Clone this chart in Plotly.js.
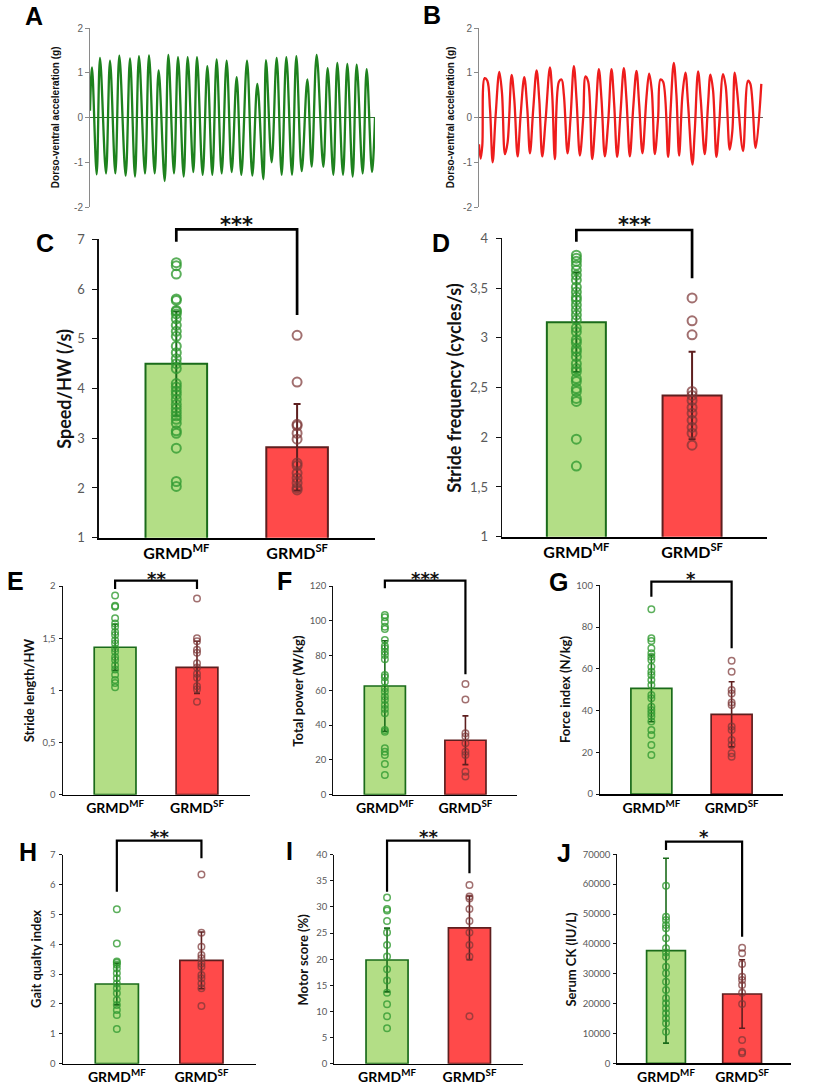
<!DOCTYPE html>
<html><head><meta charset="utf-8">
<script src="https://cdn.plot.ly/plotly-3.0.1.min.js"></script>
<style>html,body{margin:0;padding:0;background:#fff}#chart{width:814px;height:1088px}</style>
</head><body><div id="chart"></div>
<script>
// ---------------- DATA ----------------
// Panel A: dorso-ventral acceleration, GRMD-MF (time in s, acceleration in g; peaks/troughs)
const accelA_t = [0,0.07,0.234,0.351,0.561,0.702,0.889,1.029,1.251,1.404,1.579,1.719,1.930,2.070,2.269,2.409,2.620,2.749,2.947,3.088,3.287,3.427,3.626,3.754,3.953,4.117,4.292,4.444,4.620,4.795,4.971,5.146,5.310,5.509,5.696,5.871,6.082,6.175,6.374,6.550,6.725,6.889,7.088,7.240,7.427,7.626,7.778,7.953,8.187,8.339,8.538,8.678,8.877,9.029,9.216,9.357,9.567,9.708,9.895,10.0];
const accelA_g = [0.15,1.12,-1.27,1.33,-1.25,1.27,-1.25,1.38,-1.3,1.32,-1.32,1.37,-1.25,1.39,-1.25,1.05,-1.42,1.4,-1.25,1.35,-1.32,1.35,-1.22,1.35,-1.28,1.15,-1.28,1.3,-1.25,1.27,-1.22,0.9,-1.28,1.27,-1.3,0.75,-1.38,1.28,-1.0,1.33,-1.28,1.35,-1.28,1.37,-1.2,0.85,-1.1,1.4,-1.1,1.1,-1.28,1.22,-1.28,1.2,-1.32,1.18,-1.25,1.08,-1.22,0.0];
// Panel B: dorso-ventral acceleration, GRMD-SF
const accelB_t = [0,0.059,0.117,0.199,0.293,0.387,0.481,0.586,0.715,0.809,0.914,1.008,1.149,1.243,1.360,1.465,1.594,1.700,1.794,1.911,2.028,2.122,2.227,2.345,2.497,2.579,2.673,2.814,2.907,2.989,3.118,3.224,3.341,3.435,3.552,3.669,3.751,3.845,3.986,4.103,4.220,4.314,4.431,4.549,4.666,4.760,4.865,4.982,5.100,5.193,5.311,5.428,5.545,5.639,5.756,5.897,5.991,6.084,6.190,6.307,6.389,6.483,6.659,6.741,6.858,6.952,7.046,7.163,7.268,7.362,7.514,7.597,7.714,7.808,7.948,8.066,8.148,8.242,8.359,8.453,8.593,8.687,8.828,8.921,9.004,9.086,9.297,9.472,9.555,9.742,9.941];
const accelB_g = [-0.6,-0.92,-0.62,0.88,0.82,0.2,-1.0,0.05,1.02,0.55,-0.82,-0.55,0.95,0.4,-0.87,0.05,0.9,0.2,-0.8,0.2,1.05,0.4,-0.87,-0.05,1.12,0.5,-0.93,0.8,0.85,0.5,-0.8,0.0,1.15,0.4,-0.85,0.0,0.92,0.8,-0.93,0.0,1.08,0.4,-0.87,-0.1,1.08,0.3,-0.88,0.1,1.1,0.4,-0.87,0.2,1.04,0.3,-0.8,0.45,0.98,0.6,-0.82,0.0,0.85,0.8,-0.88,0.1,1.22,0.5,-0.85,0.5,1.0,0.3,-1.05,-0.3,1.03,0.4,-0.82,0.3,0.96,0.6,-0.88,-0.2,0.97,0.7,-0.72,-0.3,1.0,0.6,-0.75,0.82,0.75,-0.68,0.75];
const accelTicks = [-2,-1,0,1,2];
const accelTickText = ['-2','-1','0','1','2'];

const groups = ['GRMD<sup>MF</sup>', 'GRMD<sup>SF</sup>'];

// C: Speed/HW
const speedMean = [4.50, 2.82];
const speedSD = [1.05, 0.87];
const speedMF = [6.53,6.47,6.30,5.80,5.77,5.57,5.55,5.50,5.40,5.27,5.15,5.05,4.85,4.72,4.60,4.50,4.40,4.10,4.03,3.95,3.88,3.78,3.68,3.60,3.52,3.45,3.38,3.30,3.15,3.10,2.80,2.13,2.03];
const speedSF = [5.07,4.13,3.28,3.25,3.10,2.98,2.50,2.45,2.30,2.20,2.10,2.00,1.96];
// D: Stride frequency
const freqMean = [3.155, 2.42];
const freqSD = [0.50, 0.44];
const freqMF = [3.83,3.80,3.77,3.73,3.68,3.63,3.58,3.51,3.46,3.41,3.38,3.33,3.28,3.23,3.18,3.10,3.06,2.98,2.95,2.89,2.86,2.81,2.74,2.69,2.66,2.59,2.56,2.49,2.46,2.39,2.36,1.98,1.71];
const freqSF = [3.40,3.17,3.03,2.46,2.42,2.37,2.30,2.24,2.17,2.10,2.04,1.92];
// E: Stride length/HW
const lengthMean = [1.413, 1.221];
const lengthSD = [0.22, 0.25];
const lengthMF = [1.91,1.81,1.80,1.69,1.64,1.61,1.56,1.53,1.48,1.45,1.40,1.37,1.32,1.29,1.24,1.20,1.15,1.10,1.07,1.03];
const lengthSF = [1.88,1.50,1.47,1.39,1.36,1.26,1.22,1.16,1.12,1.04,1.01,0.89];
// F: Total power
const powerMean = [62.5, 31.3];
const powerSD = [26.0, 14.0];
const powerMF = [103.3,102,99.5,96.6,95.3,89,85.5,84.2,82.2,80.3,77.9,68.8,67.5,65,61.2,59.2,56.4,54.5,51.6,49.3,46.8,37.2,36.2,26.7,24.7,22.8,17.7,11.3];
const powerSF = [63.7,54.8,35.3,33.4,29.6,24.7,22.8,13.2,10.4];
// G: Force index
const forceMean = [50.6, 38.2];
const forceSD = [16.0, 15.6];
const forceMF = [88.5,74.6,73.3,69.8,67.4,65.8,64.2,61,58.6,57,54.6,52.2,47.4,45.9,41.8,40.2,38.7,37.1,34.7,30.7,28.3,23.5,18.7];
const forceSF = [63.9,58.6,49.8,48.2,43.8,42.6,32.3,30.7,25.9,23.5,19.5,17.9];
// H: Gait quality index
const gaitMean = [2.67, 3.46];
const gaitSD = [0.70, 0.95];
const gaitMF = [5.17,4.03,3.42,3.38,3.31,3.19,3.03,2.86,2.69,2.53,2.36,2.13,1.97,1.80,1.63,1.16];
const gaitSF = [6.34,4.39,3.92,3.64,3.53,3.36,3.25,2.97,2.86,2.69,2.53,1.93];
// I: Motor score
const motorMean = [19.85, 26.0];
const motorSD = [6.1, 6.1];
const motorMF = [31.8,29.6,29.3,27.3,25.1,22.7,20.5,18.1,15.9,13.6,11.4,9.1,6.8];
const motorSF = [34.2,32.0,31.6,29.6,27.3,25.1,22.7,20.5,9.1];
// J: Serum CK
const ckMean = [37710, 23210];
const ckSD = [30950, 11450];
const ckMF = [59490,49110,48000,46320,45200,41870,38520,37150,35710,32370,30140,27340,24550,21770,20100,18420,16750,15070,13400,10590];
const ckSF = [38730,36840,33260,29020,27900,26220,23650,19860,7800,3900,3340];

const sigLabels = {C:'***', D:'***', E:'**', F:'***', G:'*', H:'**', I:'**', J:'*'};
const yTitles = {C:'Speed/HW (/s)', D:'Stride frequency (cycles/s)', E:'Stride length/HW', F:'Total power (W/kg)', G:'Force index (N/kg)', H:'Gait qualty index', I:'Motor score (%)', J:'Serum CK (IU/L)'};
const accelTitle = 'Dorso-ventral acceleration (g)';

// ---------------- GEOMETRY (pixels) ----------------
const W = 814, H = 1088;
const px2x = p => p / W, px2y = p => 1 - p / H;
const geo = {
  A:{xL:90, xR:375, yT:28, yB:207, tx:55.7, lx:34, ly:15.7},
  B:{xL:479, xR:763, yT:28, yB:207, tx:450.7, lx:432, ly:15},
  C:{xL:99, xR:375, yT:239.3, yB:537.7, tx:63.3, lx:45, ly:243.3, bTop:229.3, bL:241.7, bR:315, sY:220.7},
  D:{xL:502.3, xR:766.7, yT:238.3, yB:536.7, tx:453.3, lx:440.7, ly:242.7, bTop:230, bL:241.7, bR:278.3, sY:220.7},
  E:{xL:62.7, xR:249.8, yT:586, yB:794.7, tx:29, lx:15.7, ly:580.7, bTop:580.7, bL:589, bR:589, sY:575},
  F:{xL:333.3, xR:517.4, yT:586, yB:794.7, tx:298.3, lx:284, ly:580.7, bTop:580.7, bL:588.3, bR:674.3, sY:575},
  G:{xL:600, xR:783.4, yT:585.3, yB:794, tx:564.3, lx:558.3, ly:581.7, bTop:581.7, bL:596.7, bR:648.3, sY:575},
  H:{xL:62.7, xR:256, yT:854.7, yB:1063.7, tx:36.7, lx:28.3, ly:852.3, bTop:840.7, bL:891.7, bR:858.3, sY:832.7},
  I:{xL:334.3, xR:522.6, yT:854.7, yB:1063.7, tx:303.3, lx:289, ly:851.3, bTop:840.7, bL:891.7, bR:873.3, sY:832.7},
  J:{xL:617.3, xR:791.2, yT:854.3, yB:1063.3, tx:570.7, lx:564, ly:853.3, bTop:841.7, bL:850, bR:936.7, sY:832.7}
};
const XR = [-0.64, 1.645];

const MF_FILL = '#b3de86', MF_LINE = '#1a6b1a', SF_FILL = '#ff4a4a', SF_LINE = '#5e1f1f';
const MF_DOT = 'rgba(50,155,50,0.8)', SF_DOT = 'rgba(125,55,55,0.72)';
const TXT = 'Lato, "Open Sans", sans-serif';
const ARIAL = '"Liberation Sans", Arial, sans-serif';
const STAR = '"DejaVu Sans", sans-serif';

const panels = [
  {k:'C', i:3, mean:speedMean, sd:speedSD, mf:speedMF, sf:speedSF, yr:[1,7], dt:1, big:true},
  {k:'D', i:4, mean:freqMean, sd:freqSD, mf:freqMF, sf:freqSF, yr:[1,4], dt:0.5, big:true},
  {k:'E', i:5, mean:lengthMean, sd:lengthSD, mf:lengthMF, sf:lengthSF, yr:[0,2], dt:0.5},
  {k:'F', i:6, mean:powerMean, sd:powerSD, mf:powerMF, sf:powerSF, yr:[0,120], dt:20},
  {k:'G', i:7, mean:forceMean, sd:forceSD, mf:forceMF, sf:forceSF, yr:[0,100], dt:20},
  {k:'H', i:8, mean:gaitMean, sd:gaitSD, mf:gaitMF, sf:gaitSF, yr:[0,7], dt:1},
  {k:'I', i:9, mean:motorMean, sd:motorSD, mf:motorMF, sf:motorSF, yr:[0,40], dt:5},
  {k:'J', i:10, mean:ckMean, sd:ckSD, mf:ckMF, sf:ckSF, yr:[0,70000], dt:10000}
];

const traces = [];
const layout = {
  width:W, height:H, margin:{l:0,r:0,t:0,b:0}, paper_bgcolor:'#fff', plot_bgcolor:'rgba(0,0,0,0)',
  showlegend:false, separators:',', barmode:'overlay', font:{family:TXT},
  shapes:[], annotations:[]
};

function letter(k){
  const g = geo[k];
  layout.annotations.push({text:'<b>'+k+'</b>', xref:'paper', yref:'paper', x:px2x(g.lx), y:px2y(g.ly),
    xanchor:'center', yanchor:'middle', showarrow:false, font:{family:ARIAL, size:25, color:'#000'}});
}
function ytitle(k, text, size, fam){
  const g = geo[k];
  layout.annotations.push({text:'<b>'+text+'</b>', xref:'paper', yref:'paper', x:px2x(g.tx), y:px2y((g.yT+g.yB)/2),
    xanchor:'center', yanchor:'middle', textangle:-90, showarrow:false, font:{family:fam, size:size, color:'#111'}});
}

// ---- A and B ----
[['A',1,accelA_t,accelA_g,'#1e821e','#2f6b2f'],['B',2,accelB_t,accelB_g,'#ee1c1c','#6e5858']].forEach(([k,i,t,v,col,zc])=>{
  const g = geo[k];
  const xn = i===1?'xaxis':'xaxis'+i, yn = i===1?'yaxis':'yaxis'+i;
  const xa = i===1?'x':'x'+i, ya = i===1?'y':'y'+i;
  traces.push({type:'scatter', mode:'lines', x:t, y:v, xaxis:xa, yaxis:ya, hoverinfo:'skip',
    line:{color:col, width:2.3, shape:'spline', smoothing:1}});
  layout[xn] = {domain:[px2x(g.xL), px2x(g.xR)], anchor:ya, range:[0,10], visible:false, fixedrange:true};
  layout[yn] = {domain:[px2y(g.yB), px2y(g.yT)], anchor:xa, range:[-2,2], tickvals:accelTicks, ticktext:accelTickText,
    showline:true, linecolor:'#8a8a8a', linewidth:1, ticks:'outside', ticklen:4, tickwidth:1, tickcolor:'#8a8a8a',
    tickfont:{family:ARIAL, size:10, color:'#606060'}, showgrid:false, zeroline:true, zerolinecolor:zc, zerolinewidth:1.6, fixedrange:true};
  letter(k);
  ytitle(k, accelTitle, 10, ARIAL);
});

// ---- bar panels ----
panels.forEach(p=>{
  const g = geo[p.k];
  const xa = 'x'+p.i, ya = 'y'+p.i;
  const big = !!p.big;
  const bl = big?2:1.7, et = big?2:1.6, ew = big?3.5:3, ms = big?9:6.5, ml = big?2:1.5;
  [[0,MF_FILL,MF_LINE],[1,SF_FILL,SF_LINE]].forEach(([j,fill,line])=>{
    traces.push({type:'bar', x:[groups[j]], y:[p.mean[j]], width:0.51, xaxis:xa, yaxis:ya, hoverinfo:'skip',
      marker:{color:fill, line:{color:line, width:bl}},
      error_y:{type:'data', array:[p.sd[j]], visible:true, color:line, thickness:et, width:ew}});
  });
  [[p.mf,0,MF_DOT],[p.sf,1,SF_DOT]].forEach(([vals,j,col])=>{
    traces.push({type:'scatter', mode:'markers', x:vals.map(()=>groups[j]), y:vals, xaxis:xa, yaxis:ya, hoverinfo:'skip', cliponaxis:false,
      marker:{symbol:'circle-open', size:ms, color:col, line:{color:col, width:ml}}});
  });
  layout['xaxis'+p.i] = {domain:[px2x(g.xL), px2x(g.xR)], anchor:ya, type:'category', categoryorder:'array', categoryarray:groups,
    range:XR, showline:true, linecolor:'#000', linewidth:big?2:1.7, ticks:'', showgrid:false, zeroline:false, fixedrange:true,
    tickfont:{family:TXT, size:big?16:14, color:'#000', weight:'bold'}};
  layout['yaxis'+p.i] = {domain:[px2y(g.yB), px2y(g.yT)], anchor:xa, range:p.yr, tick0:p.yr[0], dtick:p.dt, exponentformat:'none',
    showline:true, linecolor:'#111', linewidth:big?1.6:1.2, ticks:'outside', ticklen:big?5:3, tickwidth:1, tickcolor:'#111',
    ticklabelstandoff: big?5:1,
    tickfont:{family:TXT, size:big?13:9.5, color:'#595959'}, showgrid:false, zeroline:false, fixedrange:true};
  // significance bracket, from the category centres
  const span = XR[1]-XR[0];
  const cx0 = g.xL + (0-XR[0])/span*(g.xR-g.xL);
  const cx1 = g.xL + (1-XR[0])/span*(g.xR-g.xL);
  layout.shapes.push({type:'path', xref:'paper', yref:'paper',
    path:'M'+px2x(cx0)+','+px2y(g.bL)+' L'+px2x(cx0)+','+px2y(g.bTop)+' L'+px2x(cx1)+','+px2y(g.bTop)+' L'+px2x(cx1)+','+px2y(g.bR),
    line:{color:'#000', width:big?2.7:2.2}});
  layout.annotations.push({text:'<b>'+sigLabels[p.k]+'</b>', xref:'paper', yref:'paper', x:px2x((cx0+cx1)/2), y:px2y(g.sY+(big?4:3.5)),
    xanchor:'center', yanchor:'middle', showarrow:false, font:{family:STAR, size:big?21:18, color:'#111'}});
  letter(p.k);
  ytitle(p.k, yTitles[p.k], big?18:13, TXT);
});

Plotly.newPlot('chart', traces, layout, {staticPlot:true, displayModeBar:false});
</script></body></html>
